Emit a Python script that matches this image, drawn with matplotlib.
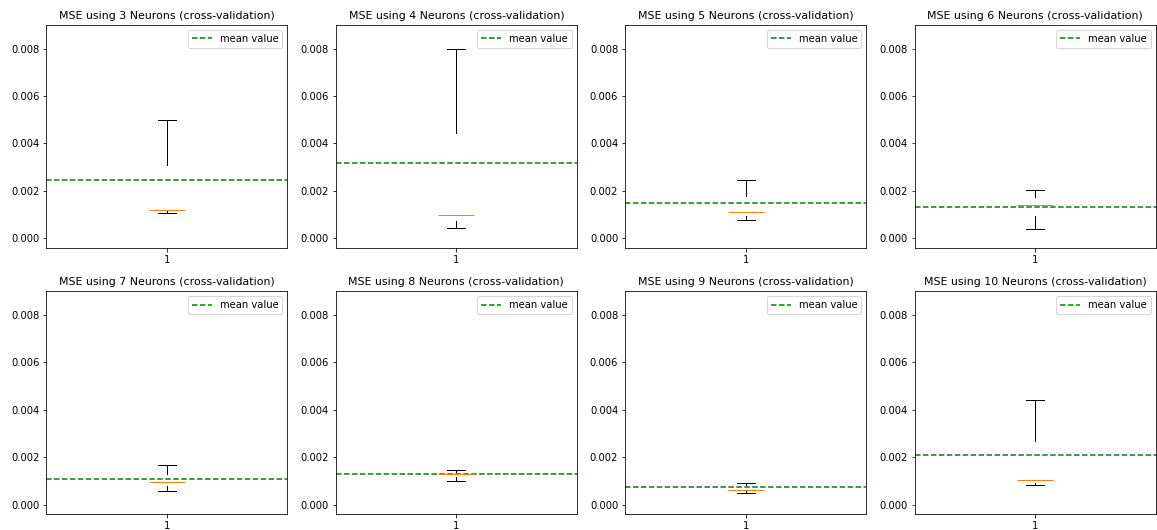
import matplotlib
matplotlib.use("Agg")
import matplotlib.pyplot as plt

# Number of hidden neurons per model
neurons = [3, 4, 5, 6, 7, 8, 9, 10]

# Cross-validation MSE summary statistics for each model
whisker_low = [0.00107, 0.00044, 0.00078, 0.00040, 0.00058, 0.00101, 0.00050, 0.00084]
q1_values   = [0.00117, 0.00071, 0.00096, 0.00092, 0.00077, 0.00116, 0.00058, 0.00092]
medians     = [0.00120, 0.00099, 0.00112, 0.00141, 0.00097, 0.00129, 0.00063, 0.00102]
q3_values   = [0.00308, 0.00445, 0.00178, 0.00174, 0.00131, 0.00137, 0.00084, 0.00269]
whisker_high = [0.00501, 0.00798, 0.00247, 0.00205, 0.00169, 0.00148, 0.00092, 0.00441]
mean_values = [0.00244, 0.00318, 0.00148, 0.00131, 0.00106, 0.00129, 0.00074, 0.00210]

W, H, DPI = 1157, 530, 72
fig, axes = plt.subplots(2, 4, figsize=(W / DPI, H / DPI), dpi=DPI)
fig.subplots_adjust(left=0.040, right=0.999, bottom=0.030, top=0.953,
                    wspace=0.2, hspace=0.195)

for i, ax in enumerate(axes.flat):
    stats = [{
        "whislo": whisker_low[i],
        "q1": q1_values[i],
        "med": medians[i],
        "q3": q3_values[i],
        "whishi": whisker_high[i],
        "fliers": [],
        "label": "1",
    }]
    ax.bxp(stats, positions=[1], widths=0.15,
           boxprops=dict(linewidth=0),
           whiskerprops=dict(color="black"),
           capprops=dict(color="black"),
           medianprops=dict(color="#ff7f0e"))
    ax.axhline(mean_values[i], color="green", linestyle="--", label="mean value")
    ax.set_ylim(-0.0004, 0.009)
    ax.set_xlim(0.5, 1.5)
    ax.set_title(f"MSE using {neurons[i]} Neurons (cross-validation)", fontsize=11)
    ax.legend(loc="upper right", fontsize=10)
    ax.tick_params(labelsize=10)

fig.savefig("out.png", dpi=DPI)
